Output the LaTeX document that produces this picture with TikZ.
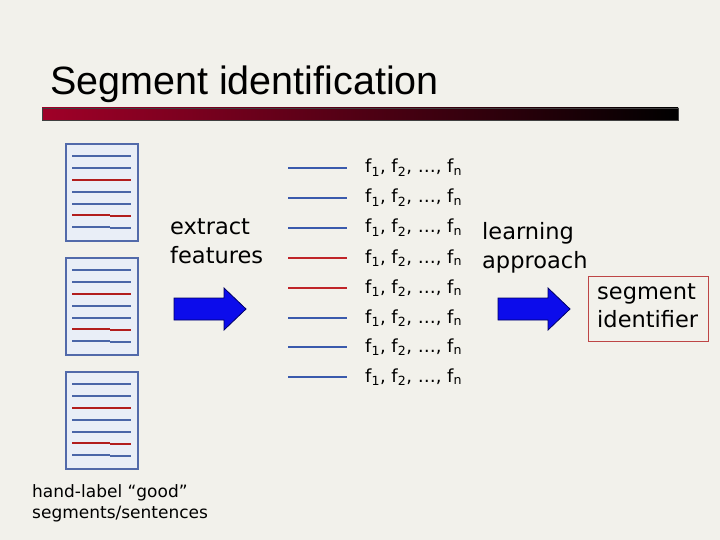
\documentclass[tikz,border=0pt]{standalone}
\usepackage{fontspec}
\setmainfont{DejaVu Sans}
\newfontfamily\titlefont{Liberation Sans}
\definecolor{bg}{RGB}{242,241,235}
\definecolor{docfill}{RGB}{233,238,247}
\definecolor{docedge}{RGB}{82,106,170}
\definecolor{docblue}{RGB}{74,102,168}
\definecolor{docred}{RGB}{178,30,30}
\definecolor{lnblue}{RGB}{58,90,172}
\definecolor{lnred}{RGB}{192,36,40}
\definecolor{arrowblue}{RGB}{12,12,235}
\definecolor{arrowedge}{RGB}{0,0,100}
\definecolor{barred}{RGB}{160,0,40}
\definecolor{boxred}{RGB}{190,70,70}
\tikzset{
  txt/.style={anchor=base west, inner sep=0pt, font=\fontsize{22.5}{29}\selectfont},
  smalltxt/.style={anchor=base west, inner sep=0pt, font=\fontsize{17}{22}\selectfont},
  feat/.style={anchor=base west, inner sep=0pt, font=\fontsize{18}{22}\selectfont},
  docbox/.style={draw=docedge, fill=docfill, line width=1.4pt},
  docline/.style={line width=1.4pt},
  featline/.style={line width=1.1pt},
  bigarrow/.style={fill=arrowblue, draw=arrowedge, line width=0.8pt, line join=miter},
}
\newcommand{\docpage}[2]{%
  \begin{scope}[shift={(#1,#2)}]
    \draw[docbox] (0,0) rectangle (72,97);
    \draw[docline, docblue] (6,12) -- (65,12);
    \draw[docline, docblue] (6,24) -- (65,24);
    \draw[docline, docred] (6,36) -- (65,36);
    \draw[docline, docblue] (6,48) -- (65,48);
    \draw[docline, docblue] (6,60) -- (65,60);
    \draw[docline, docred] (6,71) -- (44,71) (44,72) -- (65,72);
    \draw[docline, docblue] (6,83) -- (44,83) (44,84) -- (65,84);
  \end{scope}}
\newcommand{\featrow}[3]{%
  \draw[featline, draw=#3] (288,#2) -- (347,#2);
  \node[feat] (f#1) at (365,#2+5) {f\textsubscript{1}, f\textsubscript{2}, …, f\textsubscript{n}};}
\begin{document}
\begin{tikzpicture}[x=1pt,y=-1pt]
\fill[bg] (0,0) rectangle (720,540);
\useasboundingbox (0,0) rectangle (720,540);
% title
\node[anchor=base west, inner sep=0pt, font=\titlefont\fontsize{39.5}{40}\selectfont] (title) at (50,95) {Segment identification};
\draw[black!75, line width=0.8pt, left color=barred, right color=black] (42,108) rectangle (678,120);
% documents
\docpage{66}{144}
\docpage{66}{258}
\docpage{66}{372}
\node[smalltxt] (hl1) at (32,497) {hand-label “good”};
\node[smalltxt] (hl2) at (32,518) {segments/sentences};
% extract features
\node[txt] (ex1) at (170,234) {extract};
\node[txt] (ex2) at (170,263) {features};
\draw[bigarrow] (174,298) -- (224,298) -- (224,288) -- (246,309) -- (224,330) -- (224,320) -- (174,320) -- cycle;
% feature rows
\featrow{0}{168}{lnblue}
\featrow{1}{198}{lnblue}
\featrow{2}{228}{lnblue}
\featrow{3}{258}{lnred}
\featrow{4}{288}{lnred}
\featrow{5}{318}{lnblue}
\featrow{6}{347}{lnblue}
\featrow{7}{377}{lnblue}
% learning approach
\node[txt] (la1) at (482,240) {learning};
\node[txt] (la2) at (482,268) {approach};
\draw[bigarrow] (498,298) -- (548,298) -- (548,288) -- (570,309) -- (548,330) -- (548,320) -- (498,320) -- cycle;
% segment identifier
\node[draw=boxred, line width=1pt, minimum width=120pt, minimum height=65pt, inner sep=0pt] (segbox) at (648,308.5) {};
\node[txt] (si1) at (597,299) {segment};
\node[txt] (si2) at (597,327) {identifier};
\end{tikzpicture}
\end{document}
